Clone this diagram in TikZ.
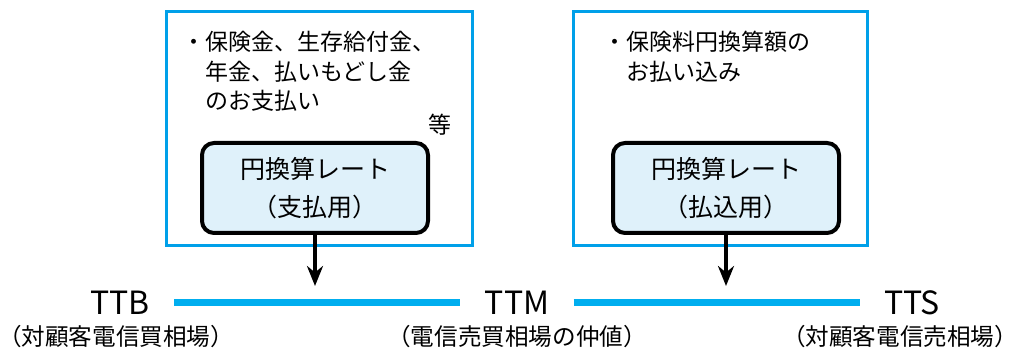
\documentclass[tikz,border=0pt]{standalone}
\usepackage{fontspec}
\setmainfont{Noto Sans CJK JP}
\usetikzlibrary{arrows.meta}
\definecolor{framecyan}{HTML}{00A0E9}
\definecolor{linecyan}{HTML}{00AEEF}
\definecolor{ratefill}{HTML}{DFF1FA}

\begin{document}
\begin{tikzpicture}[x=0.5pt,y=-0.5pt,
  frame/.style={draw=framecyan,line width=1.5pt,inner sep=0pt,minimum height=117pt},
  rate/.style={draw,line width=2pt,rounded corners=6pt,fill=ratefill,inner sep=0pt,
    minimum width=113pt,minimum height=45pt,align=center,font=\fontsize{12.5}{19}\selectfont},
  note/.style={anchor=north west,align=left,inner sep=0pt,font=\fontsize{11.5}{14.75}\selectfont},
  rateline/.style={draw=linecyan,line width=3.5pt},
  tt/.style={inner xsep=12pt,font=\fontsize{16}{16}\selectfont},
  sub/.style={font=\fontsize{11.8}{14}\selectfont},
  down/.style={line width=2pt,-{Stealth[length=10pt,width=8pt]}}]
\useasboundingbox (0,0) rectangle (1016,356);
\node [frame,minimum width=153pt] (payframe) at (319,129) {};
\node [frame,minimum width=147pt] (inframe) at (720,129) {};
\node [note] (paynote) at (182,31) {・保険金、生存給付金、\\\hspace*{1em}年金、払いもどし金\\\hspace*{1em}のお支払い};
\node [font=\fontsize{11.5}{12}\selectfont] (etc) at (440,125) {等};
\node [note] (innote) at (603,31) {・保険料円換算額の\\\hspace*{1em}お払い込み};
\node [rate] (payrate) at (315,188) {円換算レート\\（支払用）};
\node [rate] (inrate) at (726,188) {円換算レート\\（払込用）};
\node [tt] (TTB) at (120,303) {TTB};
\node [tt] (TTM) at (517,303) {TTM};
\node [tt] (TTS) at (912,303) {TTS};
\node [sub] (TTBsub) at (116,337) {（対顧客電信買相場）};
\node [sub] (TTMsub) at (517,337) {（電信売買相場の仲値）};
\node [sub] (TTSsub) at (900,337) {（対顧客電信売相場）};
\coordinate (paytip) at (payrate.south |- 0,286);
\coordinate (intip) at (inrate.south |- 0,286);
\draw [rateline] (TTB.east) -- (TTM.west);
\draw [rateline] (TTM.east) -- (TTS.west);
\draw [down] (payrate.south) -- (paytip);
\draw [down] (inrate.south) -- (intip);
\end{tikzpicture}
\end{document}
